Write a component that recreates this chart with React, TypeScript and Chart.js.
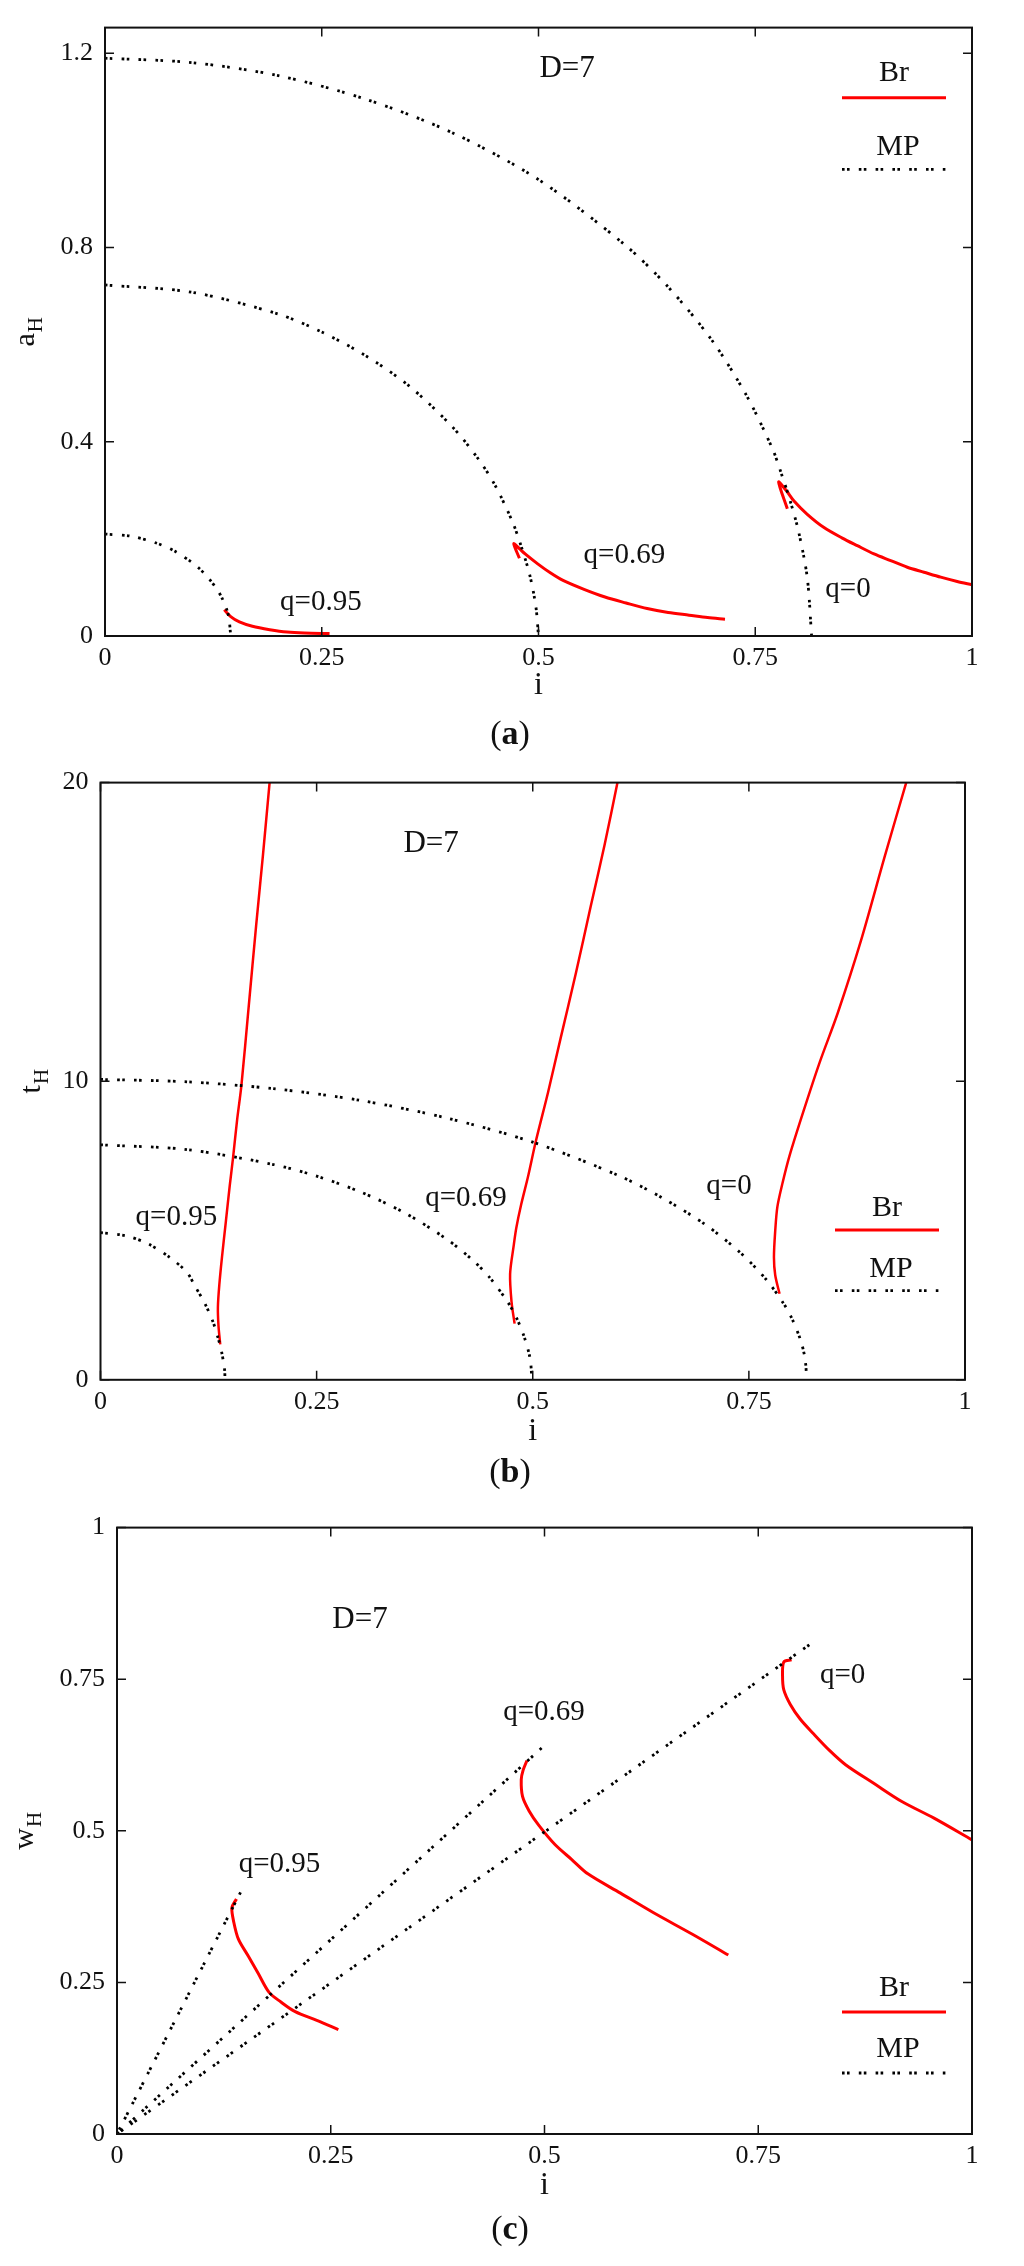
import React, { useEffect, useRef } from "react";
import { Chart, registerables } from "chart.js";

Chart.register(...registerables);

type P = [number, number];

// ---------- shared tick values ----------
const X_TICKS = [0, 0.25, 0.5, 0.75, 1];
const A_Y_TICKS = [0, 0.4, 0.8, 1.2];
const B_Y_TICKS = [0, 10, 20];
const C_Y_TICKS = [0, 0.25, 0.5, 0.75, 1];

// ---------- panel (a): a_H vs i ----------
const A_MP_Q095: P[] = [[0, 0.21], [0.03, 0.2055], [0.06, 0.191], [0.08, 0.175], [0.1, 0.152], [0.11, 0.137], [0.12, 0.118], [0.13, 0.094], [0.135, 0.078], [0.14, 0.057], [0.143, 0.036], [0.145, 0]];
const A_MP_Q069: P[] = [[0, 0.723], [0.1, 0.708], [0.2, 0.663], [0.25, 0.626], [0.3, 0.578], [0.35, 0.516], [0.4, 0.432], [0.43, 0.366], [0.45, 0.31], [0.47, 0.235], [0.48, 0.185], [0.49, 0.125], [0.497, 0.06], [0.5, 0]];
const A_MP_Q0: P[] = [[0, 1.19], [0.1, 1.181], [0.2, 1.154], [0.3, 1.106], [0.4, 1.037], [0.5, 0.94], [0.6, 0.805], [0.65, 0.718], [0.7, 0.609], [0.74, 0.495], [0.77, 0.385], [0.78, 0.335], [0.79, 0.28], [0.8, 0.215], [0.81, 0.12], [0.815, 0]];
const A_BR_Q095: P[] = [[0.1375, 0.054], [0.145, 0.04], [0.155, 0.029], [0.17, 0.02], [0.19, 0.013], [0.21, 0.008], [0.23, 0.006], [0.259, 0.005]];
const A_BR_Q069: P[] = [[0.478, 0.16], [0.4715, 0.19], [0.478, 0.18], [0.4846, 0.169], [0.4991, 0.1486], [0.5136, 0.1302], [0.5283, 0.1145], [0.5525, 0.0961], [0.5767, 0.0803], [0.601, 0.068], [0.6253, 0.0565], [0.6496, 0.0484], [0.6738, 0.0429], [0.695, 0.038], [0.7151, 0.0347]];
const A_BR_Q0: P[] = [[0.787, 0.262], [0.777, 0.317], [0.786, 0.299], [0.7947, 0.278], [0.81, 0.2507], [0.8293, 0.2234], [0.8504, 0.2017], [0.8677, 0.186], [0.887, 0.169], [0.9062, 0.1553], [0.9254, 0.1416], [0.9446, 0.1314], [0.9639, 0.1212], [0.983, 0.1124], [1, 0.1057]];

// ---------- panel (b): t_H vs i ----------
const B_MP_Q095: P[] = [[0, 4.93], [0.03, 4.82], [0.056, 4.54], [0.08, 4.1], [0.1, 3.6], [0.109, 3.15], [0.12, 2.6], [0.13, 1.95], [0.136, 1.4], [0.14, 0.95], [0.1435, 0.35], [0.144, 0]];
const B_MP_Q069: P[] = [[0, 7.87], [0.1, 7.71], [0.2, 7.21], [0.25, 6.82], [0.3, 6.3], [0.35, 5.62], [0.4, 4.72], [0.43, 4.02], [0.45, 3.43], [0.47, 2.65], [0.48, 2.15], [0.49, 1.45], [0.497, 0.7], [0.499, 0]];
const B_MP_Q0: P[] = [[0, 10.06], [0.1, 9.98], [0.2, 9.75], [0.3, 9.36], [0.4, 8.77], [0.5, 7.96], [0.6, 6.83], [0.65, 6.09], [0.7, 5.19], [0.74, 4.26], [0.77, 3.36], [0.79, 2.56], [0.8, 2.04], [0.81, 1.31], [0.815, 0.7], [0.817, 0]];
const B_BR_Q095: P[] = [[0.1385, 1.19], [0.1365, 1.8], [0.1358, 2.43], [0.1375, 3.2], [0.1405, 4.1], [0.145, 5.3], [0.1495, 6.5], [0.1535, 7.48], [0.158, 8.7], [0.163, 9.86], [0.1715, 12.52], [0.18, 15.2], [0.188, 17.6], [0.1956, 20]];
const B_BR_Q069: P[] = [[0.479, 1.88], [0.4755, 2.6], [0.4738, 3.54], [0.478, 4.5], [0.481, 5.09], [0.4866, 5.87], [0.4945, 6.8], [0.5035, 7.98], [0.5178, 9.64], [0.532, 11.41], [0.55, 13.63], [0.567, 15.85], [0.583, 17.9], [0.598, 20]];
const B_BR_Q0: P[] = [[0.7855, 2.88], [0.7805, 3.5], [0.779, 4.1], [0.7805, 5], [0.783, 5.8], [0.789, 6.6], [0.797, 7.5], [0.813, 8.98], [0.832, 10.64], [0.853, 12.3], [0.88, 14.74], [0.907, 17.51], [0.932, 20]];

// ---------- panel (c): w_H vs i ----------
const C_MP_Q095: P[] = [[0, 0], [0.145, 0.4]];
const C_MP_Q069: P[] = [[0, 0], [0.497, 0.637]];
const C_MP_Q0: P[] = [[0, 0], [0.817, 0.814]];
const C_BR_Q095: P[] = [[0.1397, 0.3876], [0.1344, 0.3732], [0.1366, 0.3493], [0.142, 0.3214], [0.1535, 0.2935], [0.1649, 0.2655], [0.1779, 0.2335], [0.1917, 0.2177], [0.2084, 0.2017], [0.2337, 0.1873], [0.2589, 0.1721]];
const C_BR_Q069: P[] = [[0.4795, 0.616], [0.475, 0.6], [0.4728, 0.5847], [0.4743, 0.5568], [0.482, 0.5328], [0.4934, 0.5089], [0.5125, 0.4769], [0.5316, 0.453], [0.5507, 0.429], [0.5889, 0.3972], [0.6271, 0.3652], [0.673, 0.3294], [0.715, 0.2951]];
const C_BR_Q0: P[] = [[0.789, 0.7818], [0.7799, 0.7785], [0.7784, 0.7562], [0.7799, 0.7323], [0.7875, 0.7083], [0.799, 0.6843], [0.8143, 0.6604], [0.8333, 0.6325], [0.8525, 0.6085], [0.8868, 0.5767], [0.9174, 0.5488], [0.9556, 0.5208], [1, 0.4849]];

const SERIES_NAMES = ["Br", "MP"];
const Q_TEXT = ["q=0.95", "q=0.69", "q=0"];
const D_TEXT = "D=7";

// ---------- layout / style (kept separate from data) ----------
const FONT = "'Liberation Serif', 'Times New Roman', serif";
const INK = "#111";
const RED = "#ff0000";

interface TextLabel { text: string; x: number; y: number; size: number }
interface Panel {
  id: string;
  top: number; height: number;
  padTop: number; padRight: number; yAxisWidth: number; xAxisHeight: number;
  yMax: number; yTicks: number[];
  mp: P[][]; br: P[][];
  yTitle: [string, string]; yTitleX: number;
  caption: string; captionY: number; xTitleY: number;
  labels: TextLabel[];
  legend: { brTextY: number; brLineY: number; mpTextY: number; mpLineY: number };
  brWidth: number;
}

const PANELS: Panel[] = [
  {
    id: "a", top: 0, height: 755,
    padTop: 23.4, padRight: 52, yAxisWidth: 105, xAxisHeight: 119,
    yMax: 1.253, yTicks: A_Y_TICKS,
    mp: [A_MP_Q095, A_MP_Q069, A_MP_Q0], br: [A_BR_Q095, A_BR_Q069, A_BR_Q0],
    yTitle: ["a", "H"], yTitleX: 30,
    caption: "a", captionY: 735, xTitleY: 686,
    labels: [
      { text: D_TEXT, x: 0.533, y: 1.1676, size: 31 },
      { text: Q_TEXT[0], x: 0.249, y: 0.07, size: 29 },
      { text: Q_TEXT[1], x: 0.599, y: 0.1655, size: 29 },
      { text: Q_TEXT[2], x: 0.857, y: 0.096, size: 29 },
    ],
    legend: { brTextY: 73.3, brLineY: 97.7, mpTextY: 146.7, mpLineY: 169.3 },
    brWidth: 3,
  },
  {
    id: "b", top: 755, height: 745,
    padTop: 23.6, padRight: 59, yAxisWidth: 100.5, xAxisHeight: 120.2,
    yMax: 20, yTicks: B_Y_TICKS,
    mp: [B_MP_Q095, B_MP_Q069, B_MP_Q0], br: [B_BR_Q095, B_BR_Q069, B_BR_Q0],
    yTitle: ["t", "H"], yTitleX: 36,
    caption: "b", captionY: 718, xTitleY: 676.7,
    labels: [
      { text: D_TEXT, x: 0.3825, y: 17.96, size: 31 },
      { text: Q_TEXT[0], x: 0.0878, y: 5.43, size: 29 },
      { text: Q_TEXT[1], x: 0.4228, y: 6.09, size: 29 },
      { text: Q_TEXT[2], x: 0.727, y: 6.48, size: 29 },
    ],
    legend: { brTextY: 453.3, brLineY: 475, mpTextY: 514.3, mpLineY: 535.7 },
    brWidth: 2.5,
  },
  {
    id: "c", top: 1500, height: 766,
    padTop: 21.7, padRight: 52, yAxisWidth: 117, xAxisHeight: 132,
    yMax: 1, yTicks: C_Y_TICKS,
    mp: [C_MP_Q095, C_MP_Q069, C_MP_Q0], br: [C_BR_Q095, C_BR_Q069, C_BR_Q0],
    yTitle: ["w", "H"], yTitleX: 29,
    caption: "c", captionY: 730, xTitleY: 686,
    labels: [
      { text: D_TEXT, x: 0.2842, y: 0.848, size: 31 },
      { text: Q_TEXT[0], x: 0.19, y: 0.445, size: 29 },
      { text: Q_TEXT[1], x: 0.4994, y: 0.696, size: 29 },
      { text: Q_TEXT[2], x: 0.8487, y: 0.756, size: 29 },
    ],
    legend: { brTextY: 488.5, brLineY: 512, mpTextY: 549.6, mpLineY: 573 },
    brWidth: 3,
  },
];

const MP_DASH = [2.6, 2.4, 2.6, 9.2];

function makeDecor(p: Panel) {
  return {
    id: "decor-" + p.id,
    afterDraw(chart: any) {
      const { ctx, chartArea: ca, scales } = chart;
      const xs = scales.x;
      const ys = scales.y;
      ctx.save();
      // frame
      ctx.strokeStyle = INK;
      ctx.lineWidth = 2;
      ctx.setLineDash([]);
      ctx.strokeRect(ca.left, ca.top, ca.right - ca.left, ca.bottom - ca.top);
      // inward ticks on all four sides
      ctx.lineWidth = 1.5;
      ctx.beginPath();
      X_TICKS.forEach((v) => {
        const px = xs.getPixelForValue(v);
        ctx.moveTo(px, ca.bottom); ctx.lineTo(px, ca.bottom - 9);
        ctx.moveTo(px, ca.top); ctx.lineTo(px, ca.top + 9);
      });
      p.yTicks.forEach((v) => {
        const py = ys.getPixelForValue(v);
        ctx.moveTo(ca.left, py); ctx.lineTo(ca.left + 9, py);
        ctx.moveTo(ca.right, py); ctx.lineTo(ca.right - 9, py);
      });
      ctx.stroke();

      // in-plot labels
      ctx.fillStyle = INK;
      ctx.textAlign = "center";
      ctx.textBaseline = "middle";
      p.labels.forEach((l) => {
        ctx.font = `${l.size}px ${FONT}`;
        ctx.fillText(l.text, xs.getPixelForValue(l.x), ys.getPixelForValue(l.y));
      });

      // legend
      const lx0 = ca.right - 130;
      const lx1 = ca.right - 26;
      const lxc = ca.right - 78;
      ctx.font = `30px ${FONT}`;
      ctx.fillText(SERIES_NAMES[0], lxc, p.legend.brTextY);
      ctx.fillText(SERIES_NAMES[1], lxc + 4, p.legend.mpTextY);
      ctx.strokeStyle = RED;
      ctx.lineWidth = 3;
      ctx.beginPath();
      ctx.moveTo(lx0, p.legend.brLineY); ctx.lineTo(lx1, p.legend.brLineY);
      ctx.stroke();
      ctx.strokeStyle = "#000";
      ctx.lineWidth = 2.8;
      ctx.lineCap = "butt";
      ctx.setLineDash(MP_DASH);
      ctx.beginPath();
      ctx.moveTo(lx0, p.legend.mpLineY); ctx.lineTo(lx1, p.legend.mpLineY);
      ctx.stroke();
      ctx.setLineDash([]);

      // y title (rotated, with subscript)
      const cy = (ca.top + ca.bottom) / 2;
      ctx.save();
      ctx.translate(p.yTitleX, cy);
      ctx.rotate(-Math.PI / 2);
      ctx.textBaseline = "alphabetic";
      ctx.textAlign = "left";
      ctx.font = `30px ${FONT}`;
      const wMain = ctx.measureText(p.yTitle[0]).width;
      ctx.font = `21px ${FONT}`;
      const wSub = ctx.measureText(p.yTitle[1]).width;
      const start = -(wMain + wSub + 1) / 2;
      ctx.font = `30px ${FONT}`;
      ctx.fillText(p.yTitle[0], start, 4);
      ctx.font = `21px ${FONT}`;
      ctx.fillText(p.yTitle[1], start + wMain + 1, 12);
      ctx.restore();

      // x title
      const cx = (ca.left + ca.right) / 2;
      ctx.textAlign = "center";
      ctx.textBaseline = "middle";
      ctx.font = `32px ${FONT}`;
      ctx.fillText("i", cx, p.xTitleY);

      // caption "(x)" with bold letter
      ctx.textAlign = "left";
      ctx.font = `34px ${FONT}`;
      const wo = ctx.measureText("(").width;
      const wc = ctx.measureText(")").width;
      ctx.font = `bold 34px ${FONT}`;
      const wl = ctx.measureText(p.caption).width;
      const x0 = 510 - (wo + wl + wc) / 2;
      ctx.font = `34px ${FONT}`;
      ctx.fillText("(", x0, p.captionY);
      ctx.font = `bold 34px ${FONT}`;
      ctx.fillText(p.caption, x0 + wo, p.captionY);
      ctx.font = `34px ${FONT}`;
      ctx.fillText(")", x0 + wo + wl, p.captionY);

      ctx.restore();
    },
  };
}

function toXY(d: P[]) {
  return d.map(([x, y]) => ({ x, y }));
}

function PanelChart({ p }: { p: Panel }) {
  const ref = useRef<HTMLCanvasElement>(null);
  useEffect(() => {
    if (!ref.current) return;
    const tickFont = { family: FONT, size: 26 };
    const chart = new Chart(ref.current, {
      type: "scatter",
      data: {
        datasets: [
          ...p.mp.map((d) => ({
            data: toXY(d),
            showLine: true,
            borderColor: "#000",
            backgroundColor: "#000",
            borderWidth: 2.8,
            borderDash: MP_DASH,
            borderCapStyle: "butt" as const,
            pointRadius: 0,
            tension: 0.3,
            fill: false,
          })),
          ...p.br.map((d) => ({
            data: toXY(d),
            showLine: true,
            borderColor: RED,
            backgroundColor: RED,
            borderWidth: p.brWidth,
            borderJoinStyle: "round" as const,
            pointRadius: 0,
            tension: 0.3,
            fill: false,
          })),
        ],
      },
      options: {
        responsive: false,
        animation: false,
        devicePixelRatio: 1,
        events: [],
        layout: { padding: { top: p.padTop, right: p.padRight, left: 0, bottom: 0 } },
        plugins: { legend: { display: false }, tooltip: { enabled: false } },
        scales: {
          x: {
            type: "linear",
            min: 0,
            max: 1,
            grid: { display: false, drawTicks: false },
            border: { display: false },
            ticks: {
              font: tickFont,
              color: INK,
              padding: 7,
              autoSkip: false,
              maxRotation: 0,
              callback: (v: any) => String(v),
            },
            afterBuildTicks: (s: any) => {
              s.ticks = X_TICKS.map((v) => ({ value: v }));
            },
            afterFit: (s: any) => {
              s.height = p.xAxisHeight;
            },
          },
          y: {
            type: "linear",
            min: 0,
            max: p.yMax,
            grid: { display: false, drawTicks: false },
            border: { display: false },
            ticks: {
              font: tickFont,
              color: INK,
              padding: 12,
              autoSkip: false,
              callback: (v: any) => String(v),
            },
            afterBuildTicks: (s: any) => {
              s.ticks = p.yTicks.map((v) => ({ value: v }));
            },
            afterFit: (s: any) => {
              s.width = p.yAxisWidth;
            },
          },
        },
      },
      plugins: [makeDecor(p)],
    } as any);
    return () => chart.destroy();
  }, [p]);
  return (
    <canvas
      ref={ref}
      width={1024}
      height={p.height}
      style={{ position: "absolute", left: 0, top: p.top, width: 1024, height: p.height }}
    />
  );
}

export default function App() {
  return (
    <div style={{ position: "absolute", left: 0, top: 0, width: 1024, height: 2266, background: "#fff" }}>
      {PANELS.map((p) => (
        <PanelChart key={p.id} p={p} />
      ))}
    </div>
  );
}
